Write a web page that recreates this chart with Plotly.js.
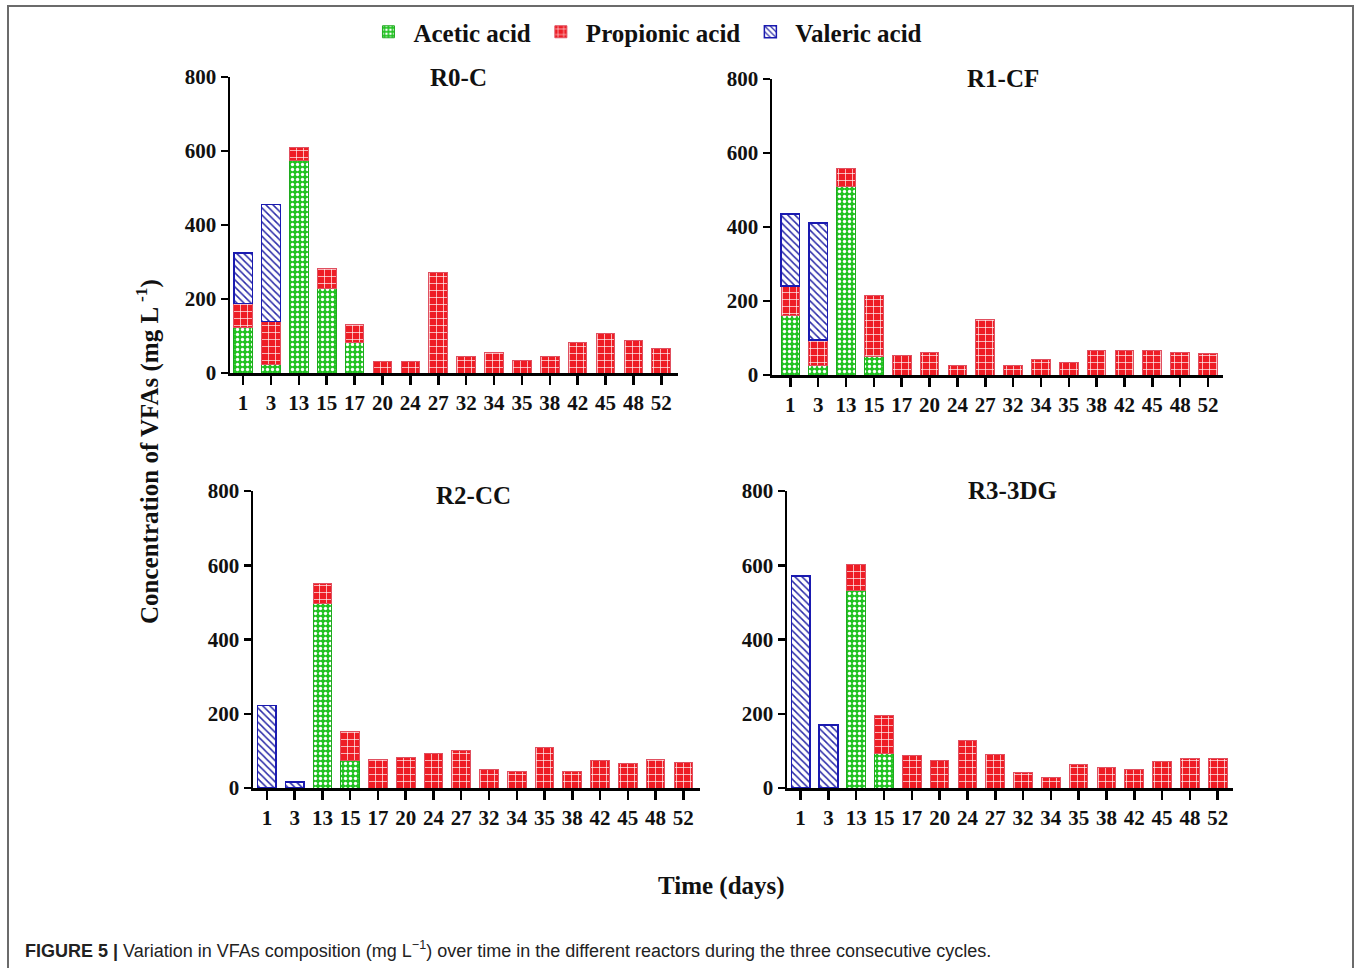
<!DOCTYPE html>
<html>
<head>
<meta charset="utf-8">
<script src="https://cdn.plot.ly/plotly-3.0.1.min.js"></script>
<style>
  html, body { margin: 0; padding: 0; background: #ffffff; }
  #chart { width: 1356px; height: 968px; }
</style>
</head>
<body>
<div id="chart"></div>
<script>
// ---- data (mg/L) ----
const days = ["1","3","13","15","17","20","24","27","32","34","35","38","42","45","48","52"];
const seriesNames = ["Acetic acid", "Propionic acid", "Valeric acid"];
const panelTitles = ["R0-C", "R1-CF", "R2-CC", "R3-3DG"];

const r0Acetic     = [123, 24, 573, 228, 83, null, null, null, null, null, null, null, null, null, null, null];
const r0Propionic  = [65, 115, 36, 55, 47, 31, 31, 271, 44, 55, 35, 44, 83, 107, 87, 67];
const r0Valeric    = [136, 317, null, null, null, null, null, null, null, null, null, null, null, null, null, null];

const r1Acetic     = [162, 27, 509, 51, null, null, null, null, null, null, null, null, null, null, null, null];
const r1Propionic  = [79, 68, 49, 163, 53, 61, 25, 151, 25, 41, 33, 66, 66, 66, 61, 57];
const r1Valeric    = [194, 316, null, null, null, null, null, null, null, null, null, null, null, null, null, null];

const r2Acetic     = [null, null, 496, 75, null, null, null, null, null, null, null, null, null, null, null, null];
const r2Propionic  = [null, null, 54, 78, 78, 82, 92, 101, 49, 45, 110, 45, 73, 66, 78, 69];
const r2Valeric    = [222, 16, null, null, null, null, null, null, null, null, null, null, null, null, null, null];

const r3Acetic     = [null, null, 533, 92, null, null, null, null, null, null, null, null, null, null, null, null];
const r3Propionic  = [null, null, 69, 103, 87, 74, 127, 91, 42, 27, 64, 55, 51, 71, 80, 80];
const r3Valeric    = [571, 170, null, null, null, null, null, null, null, null, null, null, null, null, null, null];

const panels = [
  [r0Acetic, r0Propionic, r0Valeric],
  [r1Acetic, r1Propionic, r1Valeric],
  [r2Acetic, r2Propionic, r2Valeric],
  [r3Acetic, r3Propionic, r3Valeric]
];

// ---- styles ----
const W = 1356, H = 968;
const px = v => v / W;
const py = v => 1 - v / H;
const SERIF = "Liberation Serif, Times New Roman, serif";

const styles = [
  { marker: { color: "#22c322", line: { color: "#1faa1f", width: 1 },
      pattern: { shape: ".", bgcolor: "#22c322", fgcolor: "#ffffff", size: 5, solidity: 0.35 } } },
  { marker: { color: "#ee1d25", line: { color: "#e05060", width: 1 },
      pattern: { shape: "+", bgcolor: "#ee1d25", fgcolor: "#ffffff", size: 7, solidity: 0.18 } } },
  { marker: { color: "#ffffff", line: { color: "#1a1ab0", width: 1.5 },
      pattern: { shape: "\\", bgcolor: "#ffffff", fgcolor: "#2a2aa8", size: 5, solidity: 0.3 } } }
];

// plot-area pixel boxes: [left, right, top(800), bottom(0)], x range
const boxes = [
  { l: 230, r: 678, t: 77,  b: 373, xr: [-0.47, 15.6] },
  { l: 772, r: 1223, t: 79, b: 375, xr: [-0.66, 15.54] },
  { l: 253, r: 700, t: 491, b: 788, xr: [-0.5, 15.6] },
  { l: 787, r: 1233, t: 491, b: 788, xr: [-0.49, 15.55] }
];
const titlePos = [[458, 77], [1003, 78], [473, 495], [1012, 490]];

const traces = [];
const layout = {
  width: W, height: H,
  margin: { l: 0, r: 0, t: 0, b: 0 },
  paper_bgcolor: "#ffffff",
  plot_bgcolor: "rgba(0,0,0,0)",
  barmode: "stack",
  bargap: 0.33,
  showlegend: true,
  legend: {
    orientation: "h", x: 0.476, xanchor: "center", y: py(32), yanchor: "middle",
    font: { family: SERIF, size: 25, color: "#111", weight: "bold" },
    itemwidth: 40, traceorder: "normal"
  },
  annotations: [],
  shapes: [
    { type: "rect", xref: "paper", yref: "paper", x0: px(8), x1: px(1353), y0: -0.2, y1: py(6),
      line: { color: "#6b6b6b", width: 2 }, fillcolor: "rgba(0,0,0,0)", layer: "below" }
  ]
};

panels.forEach((series, p) => {
  const n = p === 0 ? "" : String(p + 1);
  const xa = "x" + n, ya = "y" + n;
  series.forEach((vals, s) => {
    traces.push({
      type: "bar", x: days, y: vals, name: seriesNames[s],
      xaxis: xa, yaxis: ya,
      marker: JSON.parse(JSON.stringify(styles[s].marker)),
      showlegend: p === 0, legendgroup: seriesNames[s],
      hoverinfo: "x+y+name"
    });
  });
  const b = boxes[p];
  layout["xaxis" + n] = {
    domain: [px(b.l), px(b.r)], anchor: ya,
    type: "category", categoryorder: "array", categoryarray: days,
    range: b.xr, showgrid: false, zeroline: false,
    showline: true, linecolor: "#000", linewidth: 2.5,
    ticks: "outside", ticklen: 9, tickwidth: 2.5, tickcolor: "#000",
    tickfont: { family: SERIF, size: 21, color: "#111", weight: "bold" },
    fixedrange: true
  };
  layout["yaxis" + n] = {
    domain: [py(b.b), py(b.t)], anchor: xa,
    range: [0, 800], tickvals: [0, 200, 400, 600, 800],
    showgrid: false, zeroline: false,
    showline: true, linecolor: "#000", linewidth: 2.5,
    ticks: "outside", ticklen: 7, tickwidth: 2.5, tickcolor: "#000",
    tickfont: { family: SERIF, size: 21, color: "#111", weight: "bold" },
    fixedrange: true
  };
  layout.annotations.push({
    text: "<b>" + panelTitles[p] + "</b>", xref: "paper", yref: "paper",
    x: px(titlePos[p][0]), y: py(titlePos[p][1]), xanchor: "center", yanchor: "middle",
    showarrow: false, font: { family: SERIF, size: 25, color: "#111" }
  });
});

// axis titles and caption
layout.annotations.push({
  text: "<b>Concentration of VFAs (mg L <sup>-1</sup>)</b>", xref: "paper", yref: "paper",
  x: px(147), y: py(452), xanchor: "center", yanchor: "middle", textangle: -90,
  showarrow: false, font: { family: SERIF, size: 25, color: "#111" }
});
layout.annotations.push({
  text: "<b>Time (days)</b>", xref: "paper", yref: "paper",
  x: px(721), y: py(886), xanchor: "center", yanchor: "middle",
  showarrow: false, font: { family: SERIF, size: 25, color: "#111" }
});
layout.annotations.push({
  text: "<b>FIGURE 5 |</b> Variation in VFAs composition (mg L<sup>−1</sup>) over time in the different reactors during the three consecutive cycles.",
  xref: "paper", yref: "paper", x: px(23), y: py(949), xanchor: "left", yanchor: "middle",
  showarrow: false, font: { family: "Liberation Sans, Arial, sans-serif", size: 18, color: "#222" }
});

Plotly.newPlot("chart", traces, layout, { displayModeBar: false, staticPlot: true });
</script>
</body>
</html>
